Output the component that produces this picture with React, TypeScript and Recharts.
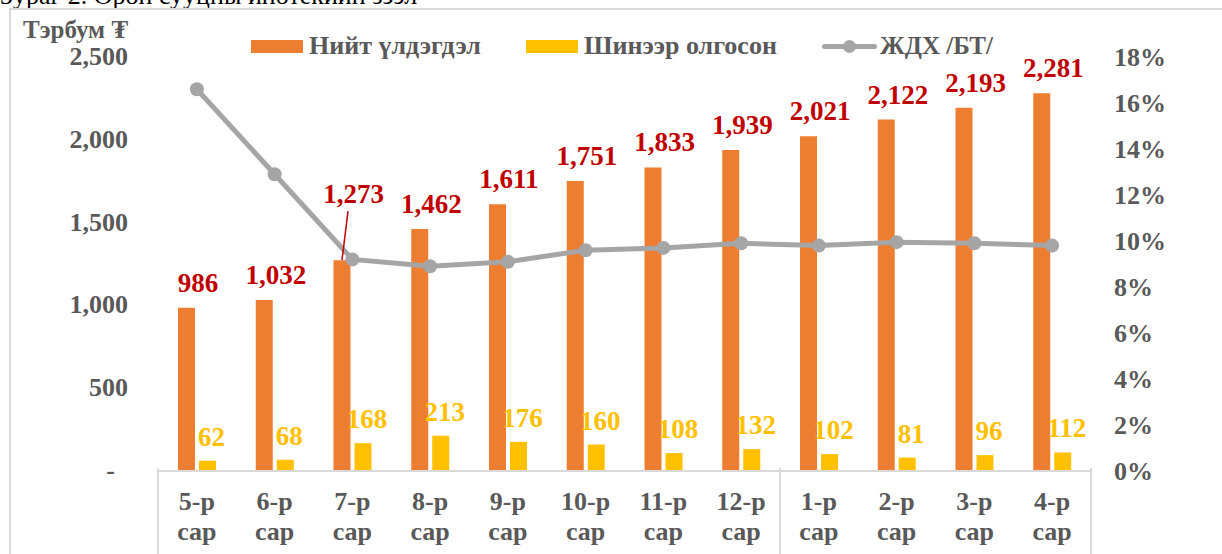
import React from 'react'
import { ComposedChart, Bar, Line, XAxis, YAxis, LabelList, Legend } from 'recharts'

const months = ['5-р', '6-р', '7-р', '8-р', '9-р', '10-р', '11-р', '12-р', '1-р', '2-р', '3-р', '4-р']
const totalBalance = [986, 1032, 1273, 1462, 1611, 1751, 1833, 1939, 2021, 2122, 2193, 2281]
const newLoans = [62, 68, 168, 213, 176, 160, 108, 132, 102, 81, 96, 112]
const rateBT = [16.6, 12.9, 9.2, 8.9, 9.1, 9.6, 9.7, 9.9, 9.8, 9.95, 9.9, 9.8]
const leftTicks = [0, 500, 1000, 1500, 2000, 2500]
const rightTicks = [0, 2, 4, 6, 8, 10, 12, 14, 16, 18]
// year groups end after these indexes
const groupEnds = [7, 11]

const data = months.map((m, i) => ({
  month: m,
  total: totalBalance[i],
  fresh: newLoans[i],
  rate: rateBT[i],
}))

const W = 1222
const H = 554
const LEFT_W = 158
const RIGHT_W = 131
const BAND = (W - LEFT_W - RIGHT_W) / months.length

const FONT = '"Liberation Serif", "Times New Roman", serif'
const GREY = '#595959'
const ORANGE = '#ED7D31'
const YELLOW = '#FFC000'
const LINE = '#A5A5A5'
const RED = '#C00000'
const BOX = '#D9D9D9'

const fmt = (v: number) => v.toLocaleString('en-US')

function LeftTick({ x, y, payload }: any) {
  const v = payload.value
  return (
    <text x={v === 0 ? x - 35 : x - 22} y={y + 8} textAnchor="end" fill={GREY}
      fontFamily={FONT} fontWeight="bold" fontSize={26}>
      {v === 0 ? '-' : fmt(v)}
    </text>
  )
}

function RightTick({ x, y, payload }: any) {
  return (
    <text x={x + 15} y={y + 9} textAnchor="start" fill={GREY}
      fontFamily={FONT} fontWeight="bold" fontSize={26}>
      {payload.value}%
    </text>
  )
}

function MonthTick({ x, y, payload, index }: any) {
  const top = y - 11
  return (
    <g>
      {index === 0 && <line x1={x - BAND / 2} x2={x - BAND / 2} y1={top} y2={top + 100} stroke={BOX} strokeWidth={2} />}
      {groupEnds.includes(index) && <line x1={x + BAND / 2} x2={x + BAND / 2} y1={top} y2={top + 100} stroke={BOX} strokeWidth={2} />}
      <text textAnchor="middle" fill={GREY} fontFamily={FONT} fontWeight="bold" fontSize={26}>
        <tspan x={x} y={top + 42}>{payload.value}</tspan>
        <tspan x={x} y={top + 72}>сар</tspan>
      </text>
    </g>
  )
}

function TotalLabel(props: any) {
  const { x, y, width, value, index } = props
  const cx = x + width + 3
  if (index === 2) {
    return (
      <g>
        <line x1={x + width / 2 + 6} y1={y - 49} x2={x + width / 2} y2={y} stroke={RED} strokeWidth={1.5} />
        <text x={cx} y={y - 57} textAnchor="middle" fill={RED} fontFamily={FONT} fontWeight="bold" fontSize={27}>
          {fmt(value)}
        </text>
      </g>
    )
  }
  return (
    <text x={cx} y={y - 16} textAnchor="middle" fill={RED} fontFamily={FONT} fontWeight="bold" fontSize={27}>
      {fmt(value)}
    </text>
  )
}

function FreshLabel(props: any) {
  const { x, y, width, value } = props
  return (
    <text x={x + width / 2 + 4} y={y - 15} textAnchor="middle" fill={YELLOW} fontFamily={FONT} fontWeight="bold" fontSize={27}>
      {value}
    </text>
  )
}

function LegendBox() {
  const txt: React.CSSProperties = {
    position: 'absolute', top: 0, fontFamily: FONT, fontWeight: 'bold', fontSize: 26,
    color: GREY, lineHeight: '32px', whiteSpace: 'nowrap',
  }
  return (
    <div style={{ position: 'relative', width: W, height: 0 }}>
      <div style={{ position: 'absolute', left: 251, top: 10, width: 52, height: 13, background: ORANGE }} />
      <div style={{ ...txt, left: 309 }}>Нийт үлдэгдэл</div>
      <div style={{ position: 'absolute', left: 526, top: 10, width: 52, height: 13, background: YELLOW }} />
      <div style={{ ...txt, left: 584 }}>Шинээр олгосон</div>
      <div style={{ position: 'absolute', left: 822, top: 14, width: 55, height: 5, borderRadius: 3, background: LINE }} />
      <div style={{ position: 'absolute', left: 843, top: 10, width: 13, height: 13, borderRadius: 7, background: LINE }} />
      <div style={{ ...txt, left: 880, fontSize: 25 }}>ЖДХ /БТ/</div>
    </div>
  )
}

export default function App() {
  return (
    <div style={{ position: 'absolute', left: 0, top: 0, width: W, height: H, overflow: 'hidden', background: '#fff' }}>
      <div style={{ position: 'absolute', left: 0, top: -17, fontFamily: FONT, fontSize: 26, lineHeight: '26px', whiteSpace: 'nowrap', color: '#000' }}>
        Зураг 2. Орон сууцны ипотекийн зээл
      </div>
      <div style={{ position: 'absolute', left: 9, top: 8, width: W, height: H, borderTop: `2px solid ${BOX}`, borderLeft: `2px solid ${BOX}` }} />
      <div style={{ position: 'absolute', left: 23, top: 16, fontFamily: FONT, fontWeight: 'bold', fontSize: 25, color: GREY, whiteSpace: 'nowrap' }}>
        Тэрбум ₮
      </div>
      <ComposedChart width={W} height={H} data={data} margin={{ top: 57, right: 0, bottom: 0, left: 0 }}
        barSize={17} barGap={4}>
        <XAxis dataKey="month" height={83} tick={<MonthTick />} tickLine={false}
          axisLine={{ stroke: BOX, strokeWidth: 2 }} interval={0} />
        <YAxis yAxisId="left" width={LEFT_W} domain={[0, 2500]} ticks={leftTicks} tick={<LeftTick />}
          axisLine={false} tickLine={false} />
        <YAxis yAxisId="right" orientation="right" width={RIGHT_W} domain={[0, 18]} ticks={rightTicks}
          tick={<RightTick />} axisLine={false} tickLine={false} />
        <Legend verticalAlign="middle" content={<LegendBox />}
          wrapperStyle={{ position: 'absolute', left: 0, top: 30, width: W, height: 0 }} />
        <Bar yAxisId="left" dataKey="total" name="Нийт үлдэгдэл" fill={ORANGE} isAnimationActive={false}>
          <LabelList dataKey="total" content={<TotalLabel />} />
        </Bar>
        <Bar yAxisId="left" dataKey="fresh" name="Шинээр олгосон" fill={YELLOW} isAnimationActive={false}>
          <LabelList dataKey="fresh" content={<FreshLabel />} />
        </Bar>
        <Line yAxisId="right" dataKey="rate" name="ЖДХ /БТ/" stroke={LINE} strokeWidth={5}
          dot={{ r: 7, fill: LINE, stroke: LINE, strokeWidth: 0 }} isAnimationActive={false} />
      </ComposedChart>
    </div>
  )
}
